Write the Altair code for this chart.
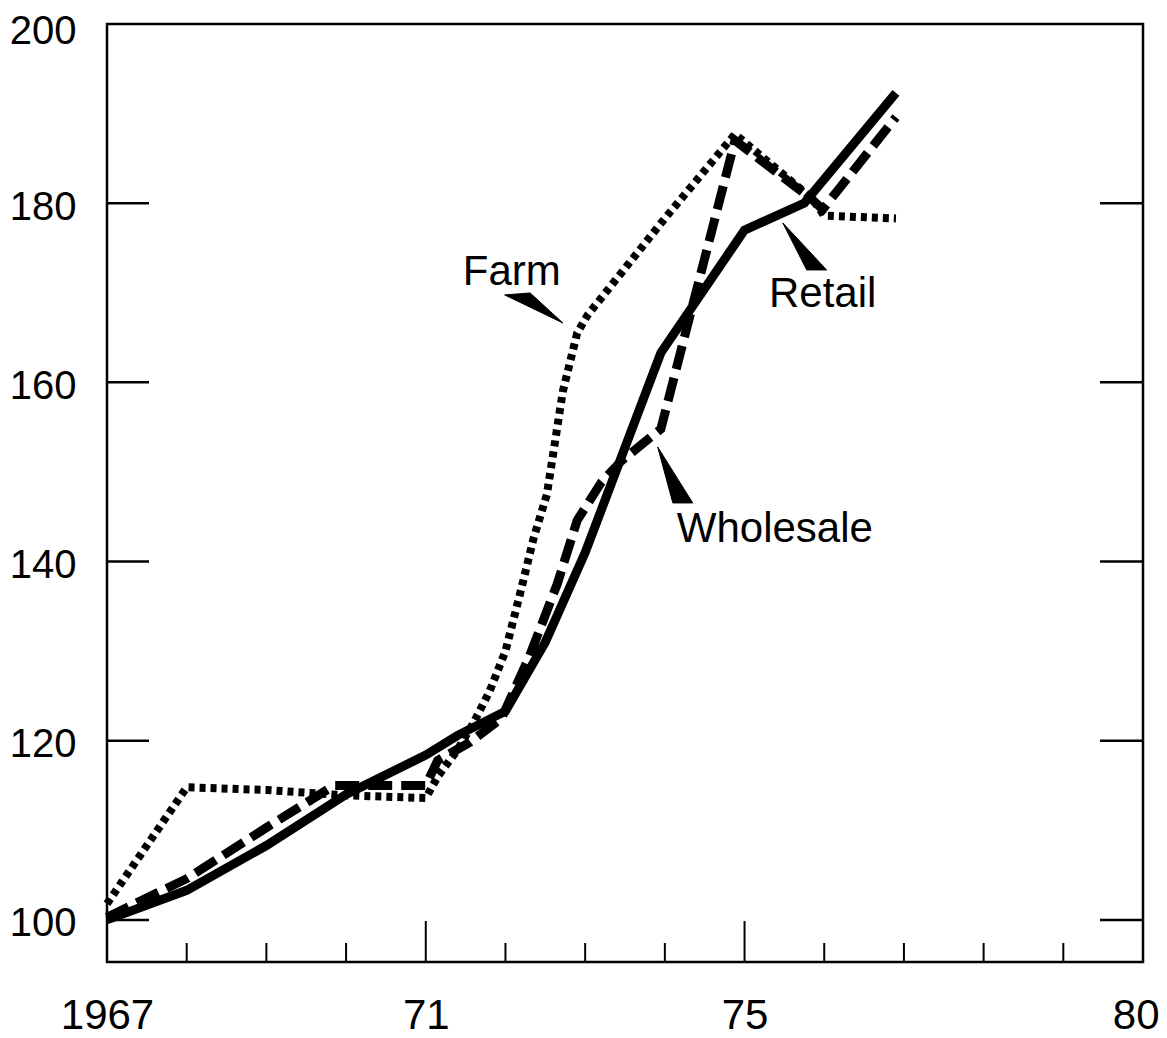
import altair as alt
import pandas as pd

# ---- data (index, 1967 = 100) ----
retail_years = [1967, 1968, 1969, 1970, 1971, 1971.4, 1972, 1972.5, 1973, 1973.95, 1975.0, 1975.75, 1976.9]
retail_vals = [100.0, 103.3, 108.3, 114.0, 118.4, 120.6, 123.3, 131.0, 141.0, 163.3, 177.0, 180.0, 192.3]

wholesale_years = [1967, 1968, 1969, 1969.85, 1971.0, 1971.15, 1971.55, 1971.95, 1972.3, 1972.65,
                   1972.9, 1973.2, 1973.45, 1973.95, 1974.88, 1975.85, 1975.98, 1976.9]
wholesale_vals = [100.3, 104.6, 110.3, 115.0, 115.0, 117.8, 119.8, 122.5, 129.4, 137.5,
                  144.6, 148.8, 151.2, 154.8, 187.0, 180.4, 179.3, 189.6]

farm_years = [1967, 1968, 1969, 1970, 1971, 1971.15, 1971.4, 1971.6, 1971.8, 1972.0, 1972.2,
              1972.35, 1972.52, 1972.72, 1972.9, 1973.03, 1974.0, 1974.88, 1975.85, 1976.0, 1976.9]
farm_vals = [101.8, 114.8, 114.5, 113.9, 113.6, 116.0, 119.0, 122.0, 125.5, 130.0, 137.0,
             142.5, 147.5, 159.0, 165.5, 167.5, 178.3, 187.7, 180.5, 178.6, 178.3]

# labels and their pointer wedges (data units)
label_names = ["Farm", "Retail", "Wholesale"]
label_x = [1972.08, 1975.98, 1975.38]
label_y = [172.3, 169.9, 143.6]
wedge_a_x = [1971.99, 1975.78, 1974.10]
wedge_a_y = [169.76, 172.55, 146.54]
wedge_b_x = [1972.31, 1976.03, 1974.35]
wedge_b_y = [169.98, 172.55, 146.54]
wedge_tip_x = [1972.72, 1975.48, 1973.91]
wedge_tip_y = [166.63, 177.80, 152.79]

y_ticks = [100, 120, 140, 160, 180, 200]
y_inner_ticks = [100, 120, 140, 160, 180]
x_label_values = [1967, 1971, 1975, 1980]
x_tick_labels = ["1967", "71", "75", "80"]
x_minor = [1968, 1969, 1970, 1972, 1973, 1974, 1976, 1977, 1978, 1979]
x_major = [1971, 1975]

W, H = 1036, 938
SANS = "Liberation Sans, Arial, sans-serif"

xs = alt.Scale(domain=[1967, 1980], nice=False, zero=False)
ys = alt.Scale(domain=[95.3, 200], nice=False, zero=False)

label_expr = " : ".join(
    f"datum.value == {v} ? '{t}'" for v, t in zip(x_label_values, x_tick_labels)
) + " : ''"
last_x = x_label_values[-1]
top_y = y_ticks[-1]

x_axis = alt.Axis(values=x_label_values, labelExpr=label_expr, ticks=False, tickSize=0,
                  domain=False, grid=False, title=None, labelFont=SANS, labelFontSize=42,
                  labelColor="black", labelPadding=33, labelFlush=False,
                  labelAlign=alt.ExprRef(expr=f"datum.value == {last_x} ? 'right' : 'center'"),
                  labelOffset=alt.ExprRef(expr=f"datum.value == {last_x} ? 16 : 0"))
y_axis = alt.Axis(values=y_ticks, ticks=False, tickSize=0, domain=False, grid=False, title=None,
                  labelFont=SANS, labelFontSize=40, labelColor="black", labelPadding=31,
                  labelOffset=alt.ExprRef(expr=f"datum.value == {top_y} ? 7 : 4"),
                  labelFlush=False)

retail_df = pd.DataFrame({"year": retail_years, "value": retail_vals})
wholesale_df = pd.DataFrame({"year": wholesale_years, "value": wholesale_vals})
farm_df = pd.DataFrame({"year": farm_years, "value": farm_vals})

base_enc = dict(
    x=alt.X("year:Q", scale=xs, axis=x_axis),
    y=alt.Y("value:Q", scale=ys, axis=y_axis),
    order="year:Q",
)

retail = alt.Chart(retail_df).mark_line(
    color="black", strokeWidth=9, strokeJoin="miter", strokeCap="butt"
).encode(**base_enc)

wholesale = alt.Chart(wholesale_df).mark_line(
    color="black", strokeWidth=9, strokeDash=[24, 9], strokeCap="butt", strokeJoin="miter"
).encode(**base_enc)

farm = alt.Chart(farm_df).mark_line(
    color="black", strokeWidth=8, strokeDash=[6, 5], strokeCap="butt", strokeJoin="miter"
).encode(**base_enc)

# pointer wedges as filled triangles
wedge_rows = []
for n, ax_, ay, bx, by, tx, ty in zip(label_names, wedge_a_x, wedge_a_y, wedge_b_x, wedge_b_y,
                                      wedge_tip_x, wedge_tip_y):
    for i, (px, py) in enumerate([(ax_, ay), (bx, by), (tx, ty), (ax_, ay)]):
        wedge_rows.append({"name": n, "i": i, "year": px, "value": py})
wedges = alt.Chart(pd.DataFrame(wedge_rows)).mark_line(
    color="black", fill="black", strokeWidth=1, strokeJoin="miter"
).encode(
    x=alt.X("year:Q", scale=xs),
    y=alt.Y("value:Q", scale=ys),
    detail="name:N",
    order="i:Q",
)

labels = alt.Chart(pd.DataFrame({"name": label_names, "year": label_x, "value": label_y})).mark_text(
    font=SANS, fontSize=42, color="black", align="center", baseline="middle"
).encode(x=alt.X("year:Q", scale=xs), y=alt.Y("value:Q", scale=ys), text="name:N")

# inward ticks
yt = pd.DataFrame({"v": y_inner_ticks})
left_ticks = alt.Chart(yt).mark_rule(color="black", strokeWidth=2.5).encode(
    y=alt.Y("v:Q", scale=ys), x=alt.value(0), x2=alt.value(42))
right_ticks = alt.Chart(yt).mark_rule(color="black", strokeWidth=2.5).encode(
    y=alt.Y("v:Q", scale=ys), x=alt.value(W - 43), x2=alt.value(W))
minor_ticks = alt.Chart(pd.DataFrame({"yr": x_minor})).mark_rule(color="black", strokeWidth=2).encode(
    x=alt.X("yr:Q", scale=xs), y=alt.value(H), y2=alt.value(H - 19))
major_ticks = alt.Chart(pd.DataFrame({"yr": x_major})).mark_rule(color="black", strokeWidth=2).encode(
    x=alt.X("yr:Q", scale=xs), y=alt.value(H), y2=alt.value(H - 41))

chart = alt.layer(
    left_ticks, right_ticks, minor_ticks, major_ticks,
    retail, wholesale, farm, wedges, labels
).properties(
    width=W, height=H,
    autosize=alt.AutoSizeParams(type="none"),
    padding={"left": 99, "top": 16, "right": 16, "bottom": 76},
    background="white",
).configure_view(stroke="black", strokeWidth=2.5)

chart.save("out.html", embed_options={"renderer": "svg", "actions": False})
